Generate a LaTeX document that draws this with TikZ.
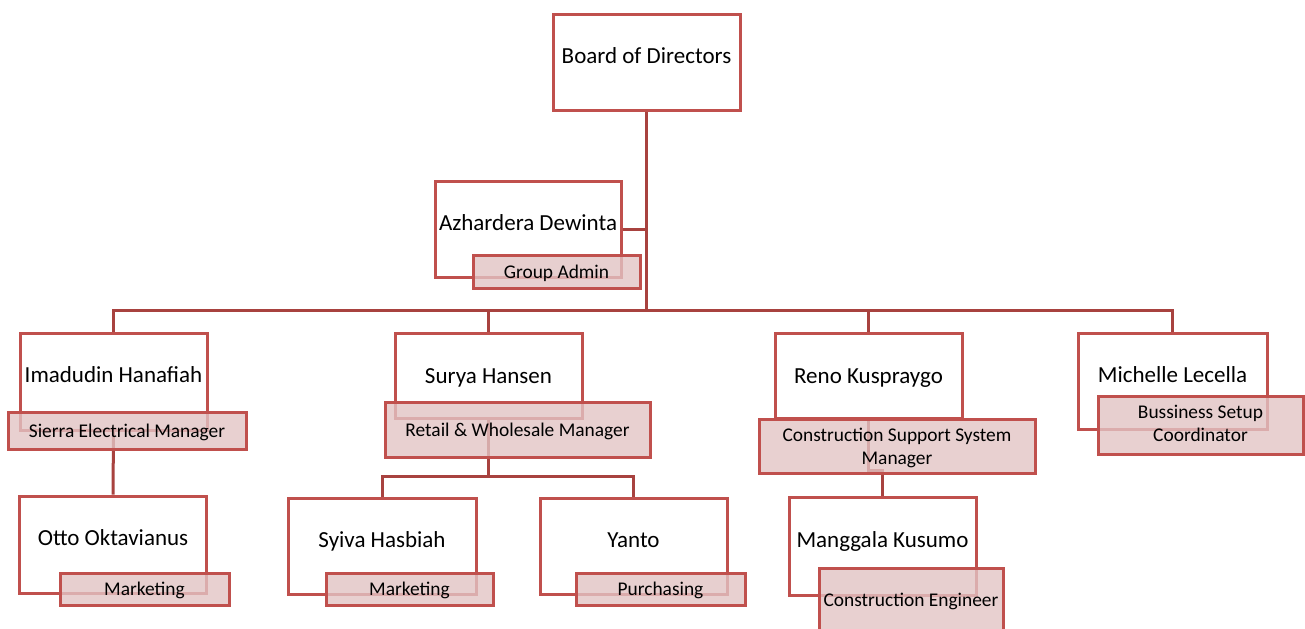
\documentclass[tikz,border=0pt]{standalone}
\usepackage{fontspec}
\setmainfont{Carlito}
\usetikzlibrary{positioning,backgrounds}
\definecolor{boxred}{RGB}{192,80,77}
\definecolor{linkred}{RGB}{168,66,63}
\definecolor{rolefill}{RGB}{226,196,196}

\begin{document}
\begin{tikzpicture}[x=0.5pt,y=-0.5pt,
	person/.style={rectangle,draw=boxred,line width=1.5pt,fill=white,inner sep=0pt,
		minimum width=93.5pt,minimum height=48pt,text height=9pt,text depth=8pt,
		font=\fontsize{11.5}{13}\selectfont},
	role/.style={rectangle,draw=boxred,line width=1.5pt,fill=rolefill,fill opacity=0.8,
		text opacity=1,inner sep=0pt,align=center,text depth=0pt,
		font=\fontsize{9.7}{11.5}\selectfont},
	link/.style={draw=linkred,line width=1.5pt}]
	\clip (0,0) rectangle (1305,628);
	% people
	\path 	(646.5,62) 	node (board) [person] {Board of Directors}
		(528,229) 	node (azh) [person, minimum width=93pt] {Azhardera Dewinta}
		(113.5,381.5) 	node (ima) [person, minimum height=48.5pt] {Imadudin Hanafiah}
		(488.5,375.5) 	node (sur) [person, minimum height=42.5pt, text depth=1pt] {Surya Hansen}
		(868.5,375.5) 	node (ren) [person, minimum height=42.5pt, text depth=1pt] {Reno Kuspraygo}
		(1172.5,381) 	node (mic) [person, minimum width=94.5pt] {Michelle Lecella}
		(113,544.5) 	node (otto) [person, minimum height=48.5pt] {Otto Oktavianus}
		(382,546) 	node (syi) [person, minimum width=94pt] {Syiva Hasbiah}
		(633.5,546) 	node (yan) [person] {Yanto}
		(882.5,546) 	node (man) [person, minimum height=49pt] {Manggala Kusumo};
	% roles
	\path 	(556.5,271.5) 	node (ga) [role, minimum width=83.5pt, minimum height=16.5pt] {Group Admin}
		(127,430.5) 	node (sem) [role, minimum width=119pt, minimum height=18.5pt] {Sierra Electrical Manager}
		(517.5,429.5) 	node (rwm) [role, minimum width=132.5pt, minimum height=27.5pt] {Retail \& Wholesale Manager}
		(897,446) 	node (cssm) [role, minimum width=138pt, minimum height=27pt] {Construction Support System\\Manager}
		(1200.5,425) 	node (bsc) [role, minimum width=102.5pt, minimum height=29pt, text depth=2pt] {Bussiness Setup\\Coordinator}
		(144.5,589) 	node (mk1) [role, minimum width=84.5pt, minimum height=16pt] {Marketing}
		(409.5,589) 	node (mk2) [role, minimum width=83.5pt, minimum height=16pt] {Marketing}
		(660.5,589) 	node (pur) [role, minimum width=84.5pt, minimum height=16pt] {Purchasing}
		(911,600) 	node (ce) [role, minimum width=92pt, minimum height=32pt] {Construction Engineer};
	\coordinate (bus) at (0,310);
	\coordinate (sbus) at (0,476);
	\coordinate (rbus) at (0,470);
	\begin{pgfonlayer}{background}
		\draw [link] (board.south) -- (board.south |- bus) (azh.east) -- (azh.east -| board.south);
		\draw [link] (ima.north) -- (ima.north |- bus) -- (mic.north |- bus) -- (mic.north)
			(sur.north) -- (sur.north |- bus) (ren.north) -- (ren.north |- bus);
		\draw [link] (ima.south) -- (otto.north);
		\draw [link] (sur.south) -- (sur.south |- sbus) (syi.north) -- (syi.north |- sbus) -- (yan.north |- sbus) -- (yan.north);
		\draw [link] (ren.south) -- (ren.south |- rbus) -| (man.north);
	\end{pgfonlayer}
\end{tikzpicture}
\end{document}
